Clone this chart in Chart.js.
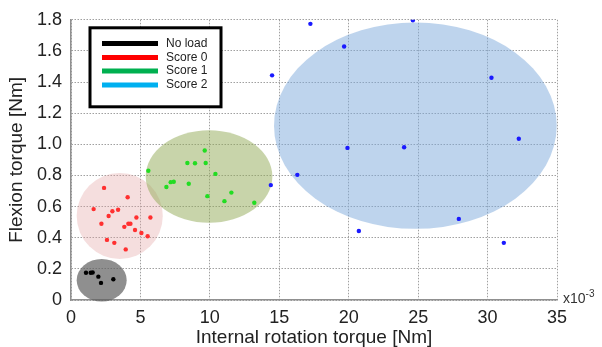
<!DOCTYPE html>
<html>
<head>
<meta charset="utf-8">
<script src="https://cdn.jsdelivr.net/npm/chart.js@4.4.1/dist/chart.umd.min.js"></script>
<style>
  html, body { margin: 0; padding: 0; background: #fff; }
  #wrap { width: 602px; height: 347px; }
</style>
</head>
<body>
<div id="wrap"><canvas id="chart" width="602" height="347"></canvas></div>
<script>
// Valores (x em 10^-3 Nm, y em Nm)
const noLoadX = [1.08, 1.42, 1.56, 1.97, 2.16, 3.05];
const noLoadY = [0.175, 0.175, 0.177, 0.15, 0.11, 0.133];

const score0X = [2.38, 4.08, 1.63, 2.98, 3.39, 2.71, 4.71, 5.72, 2.19, 4.13, 4.28, 3.84, 4.61, 5.07, 5.52, 2.59, 3.12, 3.94];
const score0Y = [0.72, 0.66, 0.584, 0.57, 0.58, 0.54, 0.53, 0.53, 0.49, 0.49, 0.49, 0.47, 0.45, 0.43, 0.41, 0.386, 0.367, 0.325];

const score1X = [9.63, 8.38, 8.93, 9.70, 5.57, 10.4, 7.18, 7.40, 8.48, 6.87, 11.55, 9.82, 11.05, 13.2];
const score1Y = [0.96, 0.88, 0.878, 0.88, 0.83, 0.81, 0.757, 0.76, 0.747, 0.726, 0.69, 0.667, 0.635, 0.625];

const score2X = [17.24, 24.62, 19.67, 14.48, 30.28, 32.25, 19.91, 23.99, 16.3, 14.39, 27.93, 20.73, 31.17];
const score2Y = [1.774, 1.797, 1.628, 1.443, 1.428, 1.036, 0.977, 0.981, 0.804, 0.738, 0.521, 0.443, 0.367];

// Elipses de agrupamento: centro e raios em unidades dos dados
const ellipseCX = [2.21, 3.51, 9.94, 24.8];
const ellipseCY = [0.127, 0.54, 0.793, 1.12];
const ellipseRX = [1.8, 3.1, 4.56, 10.18];
const ellipseRY = [0.137, 0.276, 0.297, 0.663];
const ellipseColors = ['rgba(95,95,95,0.7)', 'rgba(225,160,160,0.35)', 'rgba(145,169,85,0.5)', 'rgba(125,169,219,0.5)'];

const legendLabels = ['No load', 'Score 0', 'Score 1', 'Score 2'];
const legendColors = ['#000000', '#ff0000', '#00b050', '#00b0f0'];
const pointColors = ['#000000', '#ff3030', '#22dd22', '#1a1aff'];

const xTicks = [0, 5, 10, 15, 20, 25, 30, 35];
const yTicks = [0, 0.2, 0.4, 0.6, 0.8, 1.0, 1.2, 1.4, 1.6, 1.8];

const FONT = 'Liberation Sans, Arial, sans-serif';

function toPoints(xs, ys) {
    return xs.map((x, i) => ({ x: x, y: ys[i] }));
}

// Desenha as elipses atrás dos pontos
const ellipsePlugin = {
    id: 'ellipses',
    beforeDatasetsDraw(chart) {
        const { ctx, scales: { x, y } } = chart;
        ctx.save();
        for (let i = 0; i < ellipseCX.length; i++) {
            const cx = x.getPixelForValue(ellipseCX[i]);
            const cy = y.getPixelForValue(ellipseCY[i]);
            const rx = Math.abs(x.getPixelForValue(ellipseCX[i] + ellipseRX[i]) - cx);
            const ry = Math.abs(y.getPixelForValue(ellipseCY[i] + ellipseRY[i]) - cy);
            ctx.beginPath();
            ctx.ellipse(cx, cy, rx, ry, 0, 0, Math.PI * 2);
            ctx.fillStyle = ellipseColors[i];
            ctx.fill();
        }
        ctx.restore();
    }
};

// Legenda dentro da área do gráfico + rótulo x10^-3
const boxLegendPlugin = {
    id: 'boxLegend',
    afterDatasetsDraw(chart) {
        const { ctx, chartArea } = chart;
        ctx.save();
        const bx = chartArea.left + 19, by = chartArea.top + 8, bw = 131, bh = 79;
        ctx.fillStyle = '#fff';
        ctx.fillRect(bx, by, bw, bh);
        ctx.lineWidth = 3;
        ctx.strokeStyle = '#000';
        ctx.strokeRect(bx, by, bw, bh);
        const rowY = [43.5, 57.5, 71, 85];
        ctx.font = '12px ' + FONT;
        ctx.textBaseline = 'middle';
        for (let i = 0; i < legendLabels.length; i++) {
            ctx.fillStyle = legendColors[i];
            ctx.fillRect(bx + 12, rowY[i] - 2.5, 56, 5);
            ctx.fillStyle = '#222';
            ctx.fillText(legendLabels[i], bx + 76, rowY[i]);
        }
        // multiplicador do eixo x
        ctx.fillStyle = '#333';
        ctx.font = '14px ' + FONT;
        ctx.textBaseline = 'alphabetic';
        ctx.fillText('x10', chartArea.right + 6, chartArea.bottom + 3);
        const w = ctx.measureText('x10').width;
        ctx.font = '10px ' + FONT;
        ctx.fillText('-3', chartArea.right + 6 + w, chartArea.bottom - 3);
        ctx.restore();
    }
};

const ctx = document.getElementById('chart').getContext('2d');

new Chart(ctx, {
    type: 'scatter',
    data: {
        datasets: [
            { label: legendLabels[0], data: toPoints(noLoadX, noLoadY), backgroundColor: pointColors[0] },
            { label: legendLabels[1], data: toPoints(score0X, score0Y), backgroundColor: pointColors[1] },
            { label: legendLabels[2], data: toPoints(score1X, score1Y), backgroundColor: pointColors[2] },
            { label: legendLabels[3], data: toPoints(score2X, score2Y), backgroundColor: pointColors[3] }
        ]
    },
    options: {
        responsive: false,
        animation: false,
        layout: { padding: { top: 16, right: 45, left: 0, bottom: 0 } },
        elements: { point: { radius: 2.2, borderWidth: 0, hoverRadius: 2.2 } },
        scales: {
            x: {
                type: 'linear',
                min: 0,
                max: 35,
                afterBuildTicks: (scale) => { scale.ticks = xTicks.map(v => ({ value: v })); },
                afterFit: (scale) => { scale.height = 47; },
                grid: { color: '#a0a0a0', drawTicks: false },
                border: { display: true, color: '#909090', width: 1.5, dash: [1.5, 1.5] },
                ticks: { padding: 7, color: '#222', font: { size: 18, family: FONT } },
                title: {
                    display: true,
                    text: 'Internal rotation torque [Nm]',
                    color: '#222',
                    font: { size: 19, family: FONT, lineHeight: 1 },
                    padding: { top: 0, bottom: 0 }
                }
            },
            y: {
                type: 'linear',
                min: 0,
                max: 1.8,
                afterBuildTicks: (scale) => { scale.ticks = yTicks.map(v => ({ value: v })); },
                afterFit: (scale) => { scale.width = 71; },
                grid: { color: '#a0a0a0', drawTicks: false },
                border: { display: true, color: '#909090', width: 1.5, dash: [1.5, 1.5] },
                ticks: {
                    padding: 9,
                    color: '#222',
                    font: { size: 18, family: FONT },
                    callback: (v) => v === 0 ? '0' : Number(v).toFixed(1)
                },
                title: {
                    display: true,
                    text: 'Flexion torque [Nm]',
                    color: '#222',
                    font: { size: 19, family: FONT, lineHeight: 1 },
                    padding: { top: 7, bottom: 0 }
                }
            }
        },
        plugins: {
            legend: { display: false },
            tooltip: { enabled: false }
        }
    },
    plugins: [ellipsePlugin, boxLegendPlugin]
});
</script>
</body>
</html>
